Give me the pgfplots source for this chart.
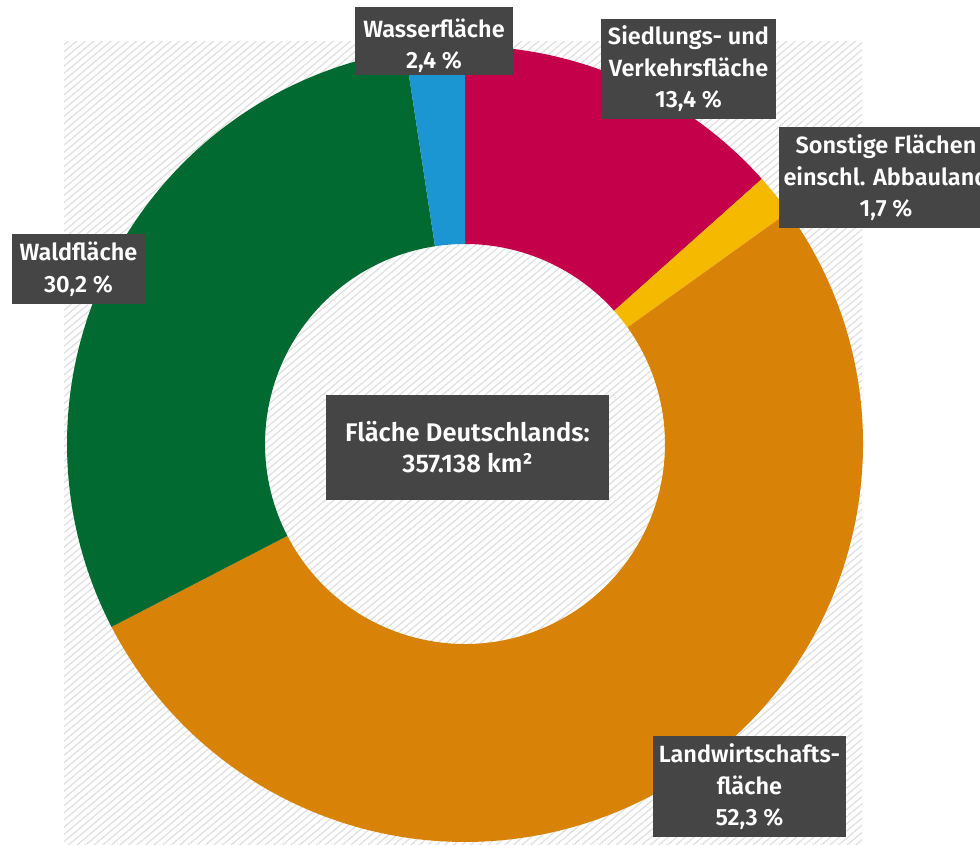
\documentclass[border=0pt]{standalone}
\usepackage{pgfplots}
\pgfplotsset{compat=1.18}
\usepackage{pgfplotstable}
\usepackage{fontspec}
\setmainfont{Fira Sans}[BoldFont={Fira Sans SemiBold}]
\usetikzlibrary{patterns.meta}

\definecolor{cRed}{RGB}{196,0,74}
\definecolor{cYel}{RGB}{245,185,0}
\definecolor{cOra}{RGB}{216,130,8}
\definecolor{cGre}{RGB}{0,106,48}
\definecolor{cBlu}{RGB}{27,150,210}
\definecolor{boxgray}{RGB}{69,69,69}
\definecolor{hatch}{RGB}{224,224,224}

\pgfplotstableread{
key value
Siedlung 13.4
Sonstige 1.7
Landwirtschaft 52.3
Wald 30.2
Wasser 2.4
}\flaechen

\newcommand\ring[3]{%
  \fill[#1] ([shift={(#2:398pt)}]axis cs:465,401)
    arc[start angle=#2, end angle=#3, radius=398pt]
    -- ([shift={(#3:200pt)}]axis cs:465,401)
    arc[start angle=#3, end angle=#2, radius=200pt] -- cycle;}

\tikzset{lbl/.style={fill=boxgray, text=white, inner sep=0pt, align=center,
  font=\bfseries\fontsize{23.5}{31.5}\selectfont}}

\begin{document}
\begin{tikzpicture}
\pgfmathsetmacro{\angO}{90}
\pgfplotstablegetelem{0}{value}\of\flaechen \pgfmathsetmacro{\angA}{\angO-3.6*\pgfplotsretval}
\pgfplotstablegetelem{1}{value}\of\flaechen \pgfmathsetmacro{\angB}{\angA-3.6*\pgfplotsretval}
\pgfplotstablegetelem{2}{value}\of\flaechen \pgfmathsetmacro{\angC}{\angB-3.6*\pgfplotsretval}
\pgfplotstablegetelem{3}{value}\of\flaechen \pgfmathsetmacro{\angD}{\angC-3.6*\pgfplotsretval}
\pgfplotstablegetelem{4}{value}\of\flaechen \pgfmathsetmacro{\angE}{\angD-3.6*\pgfplotsretval}
\begin{axis}[x=1pt, y=1pt, xmin=0, xmax=980, ymin=0, ymax=845,
  hide axis, clip=true]
  \fill[pattern={Lines[angle=40,distance=5.5pt,line width=1.3pt]}, pattern color=hatch]
    (axis cs:64,-10) rectangle (axis cs:862,803);
  \ring{cRed}{\angO}{\angA}
  \ring{cYel}{\angA}{\angB}
  \ring{cOra}{\angB}{\angC}
  \ring{cGre}{\angC}{\angD}
  \ring{cBlu}{\angD}{\angE}
  \node[lbl, minimum width=158pt, minimum height=68pt] at (axis cs:434,804) {};
  \node[lbl, fill=none] at (axis cs:434,799) {Wasserfläche\\2,4 \%};
  \node[lbl, minimum width=175pt, minimum height=100pt] at (axis cs:688.5,776) {Siedlungs- und\\Verkehrsfläche\\13,4 \%};
  \node[lbl, minimum width=214pt, minimum height=101pt] at (axis cs:886,667) {Sonstige Flächen\\einschl. Abbauland\\1,7 \%};
  \node[lbl, minimum width=133pt, minimum height=70pt] at (axis cs:78.5,576) {Waldfläche\\30,2 \%};
  \node[lbl, minimum width=283pt, minimum height=105pt, font=\bfseries\fontsize{25.5}{31}\selectfont] at (axis cs:467.5,397.5) {Fläche Deutschlands:\\357.138 km²};
  \node[lbl, minimum width=193pt, minimum height=101pt] at (axis cs:749.5,58) {Landwirtschafts-\\fläche\\52,3 \%};
\end{axis}
\pgfresetboundingbox
\path[use as bounding box] (0,0) rectangle (980pt,845pt);
\end{tikzpicture}
\end{document}
